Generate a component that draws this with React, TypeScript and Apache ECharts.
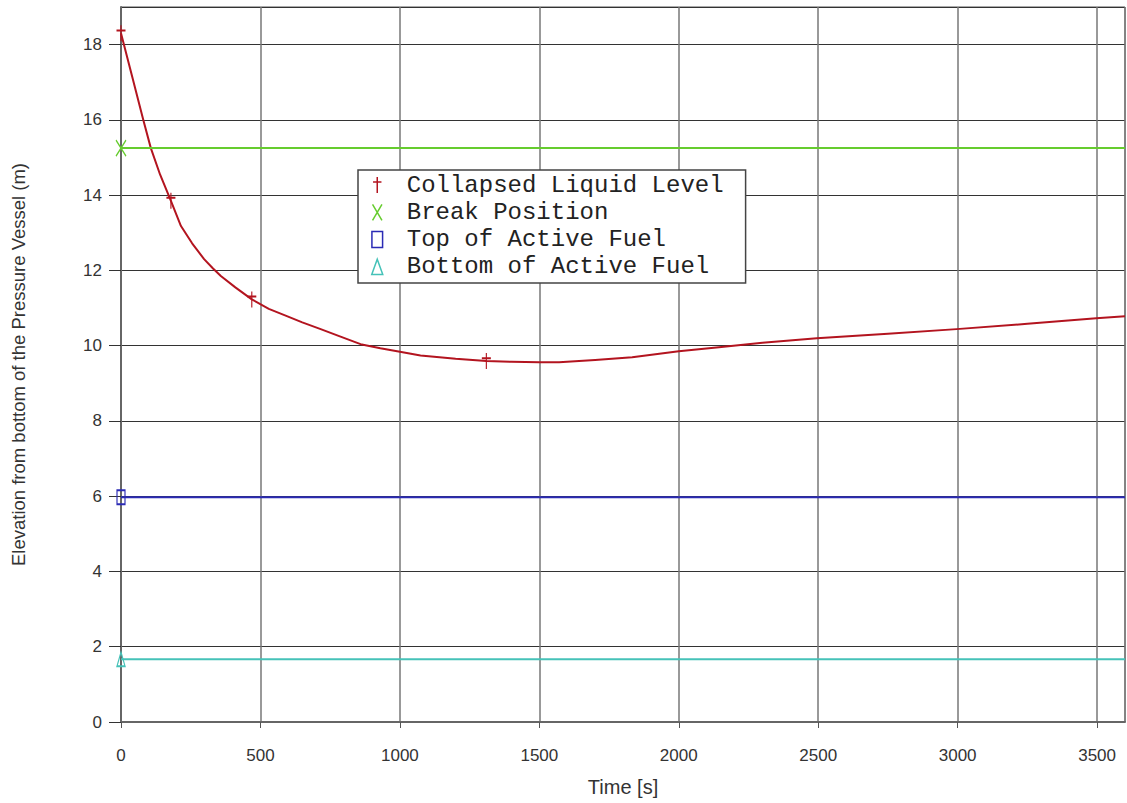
import React, { useEffect, useRef } from "react";
import * as echarts from "echarts";

// Collapsed liquid level in the pressure vessel over time
const timeS = [
  0, 40, 80, 107, 140, 179, 215, 255, 298, 330, 358, 410, 469, 530, 597, 650,
  716, 780, 859, 930, 1000, 1074, 1200, 1310, 1400, 1500, 1571, 1700, 1833,
  2000, 2144, 2300, 2495, 2750, 2996, 3250, 3497, 3600,
];
const collapsedLevel = [
  18.3, 17.15, 16.0, 15.25, 14.55, 13.85, 13.18, 12.72, 12.3, 12.05, 11.85,
  11.55, 11.23, 10.98, 10.78, 10.62, 10.44, 10.26, 10.04, 9.93, 9.84, 9.74,
  9.65, 9.59, 9.57, 9.56, 9.56, 9.62, 9.69, 9.85, 9.96, 10.08, 10.2, 10.32,
  10.44, 10.58, 10.73, 10.78,
];
// times at which the level curve carries a marker
const levelMarkerTimes = [0, 179, 469, 1310];

// Reference elevations (m)
const breakElevation = 15.25;
const topActiveFuel = 5.97;
const bottomActiveFuel = 1.67;
const timeRange = [0, 3600];

const xTicks = [0, 500, 1000, 1500, 2000, 2500, 3000, 3500];
const yTicks = [0, 2, 4, 6, 8, 10, 12, 14, 16, 18];

const seriesNames = [
  "Collapsed Liquid Level",
  "Break Position",
  "Top of Active Fuel",
  "Bottom of Active Fuel",
];
const seriesColors = ["#b3141f", "#66cc2e", "#2b2bb5", "#45c2b8"];

const plusIcon = "path://M5,0L5,19M0,6L10,6";
const crossIcon = "path://M0,0L10,17M10,0L0,17";
const squareIcon = "path://M0,0L10,0L10,15L0,15Z";
const triangleIcon = "path://M5,0L10,14L0,14Z";
const icons = [plusIcon, crossIcon, squareIcon, triangleIcon];

function App() {
  const ref = useRef<HTMLDivElement>(null);

  useEffect(() => {
    if (!ref.current) return;
    const chart = echarts.init(ref.current, null, { renderer: "svg" });

    const levelData = timeS.map((t, i) =>
      levelMarkerTimes.includes(t)
        ? { value: [t, collapsedLevel[i]] }
        : { value: [t, collapsedLevel[i]], symbol: "none" }
    );

    const flat = (v: number) => [
      { value: [timeRange[0], v] },
      { value: [timeRange[1], v], symbol: "none" },
    ];

    const mkSeries = (idx: number, data: any[], size: number[]) => ({
      name: seriesNames[idx],
      type: "line",
      data,
      symbol: icons[idx],
      symbolSize: size,
      showAllSymbol: true,
      smooth: false,
      lineStyle: { color: seriesColors[idx], width: 2, join: "round" },
      itemStyle: {
        color: "rgba(0,0,0,0)",
        borderColor: seriesColors[idx],
        borderWidth: 1.5,
      },
      emphasis: { disabled: true },
      z: 3,
    });

    const axisFont = {
      fontFamily: "'Liberation Sans Narrow', 'Liberation Sans', Arial, sans-serif",
      color: "#333",
    };

    chart.setOption({
      animation: false,
      backgroundColor: "#ffffff",
      grid: {
        left: 121,
        top: 7,
        right: 2,
        bottom: 81,
        show: true,
        borderColor: "#555",
        borderWidth: 1,
      },
      xAxis: {
        type: "value",
        min: timeRange[0],
        max: timeRange[1],
        interval: 500,
        name: "Time [s]",
        nameLocation: "middle",
        nameGap: 55,
        nameTextStyle: { ...axisFont, fontSize: 20 },
        axisLine: { show: true, onZero: false, lineStyle: { color: "#666", width: 2 } },
        axisTick: { show: true, length: 6, lineStyle: { color: "#555" } },
        axisLabel: {
          ...axisFont,
          fontSize: 17,
          margin: 25,
          showMaxLabel: false,
          formatter: (v: number) => (xTicks.includes(v) ? String(v) : ""),
        },
        splitLine: { show: true, lineStyle: { color: "#777", width: 1.5 } },
      },
      yAxis: {
        type: "value",
        min: 0,
        max: 19,
        interval: 2,
        name: "Elevation from bottom of the Pressure Vessel (m)",
        nameLocation: "middle",
        nameGap: 93,
        nameTextStyle: { ...axisFont, fontSize: 18.5 },
        axisLine: { show: true, onZero: false, lineStyle: { color: "#666", width: 2 } },
        axisTick: { show: true, inside: false, length: 12, lineStyle: { color: "#333" } },
        axisLabel: {
          ...axisFont,
          fontSize: 17,
          margin: 19,
          showMaxLabel: false,
          formatter: (v: number) => (yTicks.includes(v) ? String(v) : ""),
        },
        splitLine: { show: true, lineStyle: { color: "#333", width: 1.2 } },
      },
      legend: {
        orient: "vertical",
        left: 358,
        top: 170,
        selectedMode: false,
        backgroundColor: "#ffffff",
        borderColor: "#444",
        borderWidth: 1.5,
        borderRadius: 0,
        padding: [3, 22, 4, 13],
        itemWidth: 11,
        itemHeight: 16,
        itemGap: 3.3,
        textStyle: {
          fontFamily: "'Liberation Mono', 'Courier New', monospace",
          fontSize: 24,
          lineHeight: 24,
          color: "#222",
          padding: [0, 0, 0, 19],
        },
        data: seriesNames.map((n, i) => ({
          name: n,
          icon: icons[i],
          itemStyle: {
            color: "rgba(0,0,0,0)",
            borderColor: seriesColors[i],
            borderWidth: 1.5,
          },
        })),
      },
      series: [
        mkSeries(0, levelData, [9, 16]),
        mkSeries(1, flat(breakElevation), [10, 16]),
        mkSeries(2, flat(topActiveFuel), [8, 14]),
        mkSeries(3, flat(bottomActiveFuel), [8, 14]),
      ],
    });

    return () => chart.dispose();
  }, []);

  return <div ref={ref} style={{ width: 1127, height: 803, position: "absolute", left: 0, top: 0 }} />;
}

export default App;
